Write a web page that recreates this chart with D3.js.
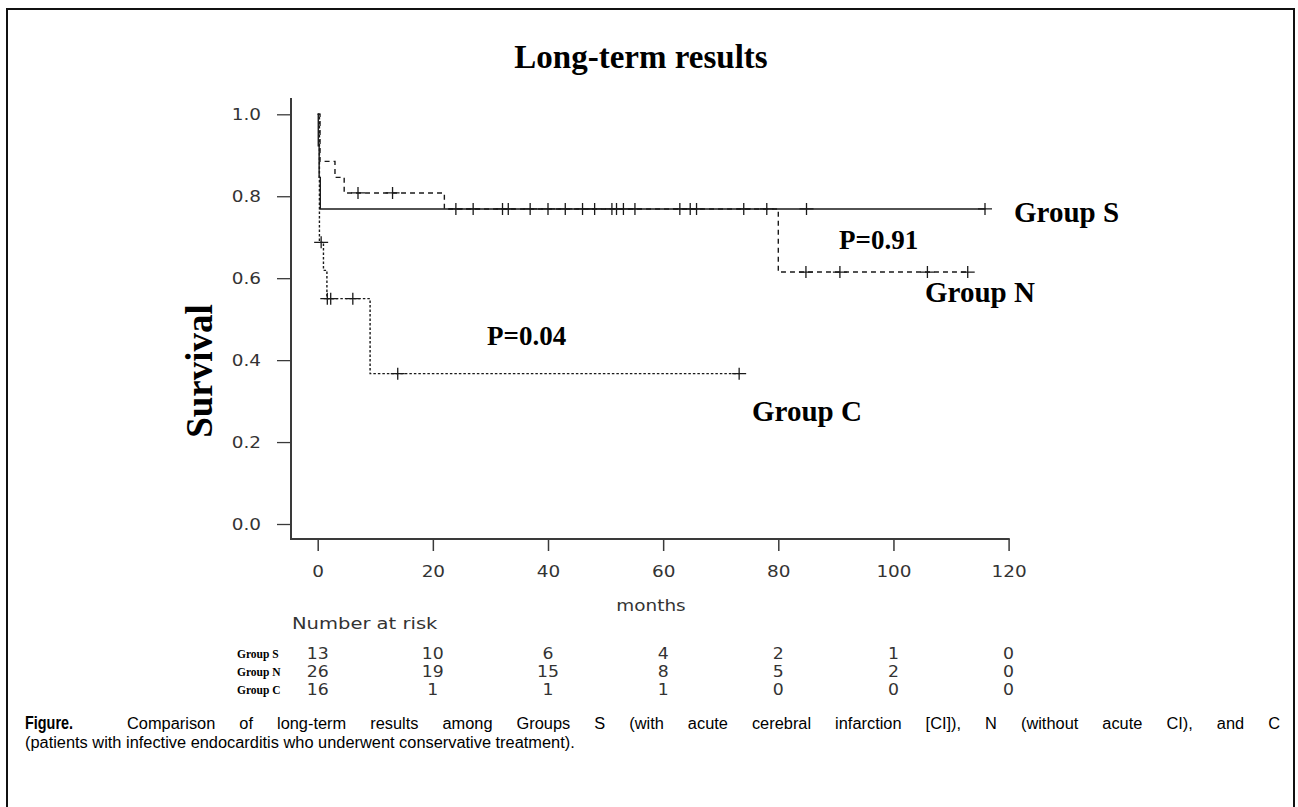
<!DOCTYPE html>
<html>
<head>
<meta charset="utf-8">
<script src="https://cdn.jsdelivr.net/npm/d3@7"></script>
<style>
  body { margin:0; background:#fff; }
  svg { display:block; }
</style>
</head>
<body>
<div id="chart"></div>
<script>
// temps (mois) des sauts et survie de chaque groupe
var sTime = [0, 0.1, 0.25, 0.45];
var sSurv = [1.0, 0.923, 0.846, 0.769];
var sEnd = 116;
var sCens = [27.0, 36.9, 43.0, 51.9, 64.7, 74.0, 84.9, 115.9];

var nTime = [0, 0.4, 3.0, 4.6, 22, 80];
var nSurv = [1.0, 0.885, 0.846, 0.808, 0.769, 0.615];
var nEnd = 113;
var nCens = [7.0, 13.0, 24.0, 32.1, 33.1, 40.0, 46.0, 48.1, 51.1, 53.1, 55.1, 62.9, 65.8, 78.0, 84.8, 90.7, 105.9, 112.9];

var cTime = [0, 0.3, 1.0, 1.6, 9.1];
var cSurv = [1.0, 0.6875, 0.619, 0.55, 0.367];
var cEnd = 73.2;
var cCens = [0.6, 1.67, 2.26, 6.1, 13.9, 73.2];

var xTicks = [0, 20, 40, 60, 80, 100, 120];
var yTicks = [0.0, 0.2, 0.4, 0.6, 0.8, 1.0];

// nombre de sujets a risque
var riskGroups = ["Group S", "Group N", "Group C"];
var riskS = [13, 10, 6, 4, 2, 1, 0];
var riskN = [26, 19, 15, 8, 5, 2, 0];
var riskC = [16, 1, 1, 1, 0, 0, 0];

var width = 1298, height = 807;
var axisCol = "#3a3a3a", lineCol = "#1a1a1a", txtCol = "#333";
var sansF = "'DejaVu Sans', sans-serif";
var serifF = "'Liberation Serif', 'Times New Roman', serif";
var capF = "'Liberation Sans', Arial, sans-serif";
var stretchK = 1.15; // le texte de la figure d'origine est elargi

var svg = d3.select("#chart").append("svg")
    .attr("width", width).attr("height", height);

// elargit un texte horizontalement
function stretch(sel, k){
  sel.each(function(){
    var l = this.getComputedTextLength();
    d3.select(this).attr("textLength", l * k).attr("lengthAdjust", "spacingAndGlyphs");
  });
}

// cadre de la figure
svg.append("path")
    .attr("d", "M7,812 V9 H1294 V812")
    .attr("fill", "none").attr("stroke", "#111").attr("stroke-width", 2);

var x = d3.scaleLinear().domain([0, 120]).range([317.7, 1008.6]);
var y = d3.scaleLinear().domain([0, 1]).range([524, 114.3]);

// titre
svg.append("text").attr("x", 641).attr("y", 68).attr("text-anchor", "middle")
    .style("font-family", serifF).style("font-weight", "bold").style("font-size", "33px")
    .text("Long-term results");

// axe y
var yAxis = svg.append("g").attr("transform", "translate(291,0)")
    .call(d3.axisLeft(y).tickValues(yTicks).tickFormat(d3.format(".1f")).tickSize(14).tickPadding(16));
yAxis.select(".domain").remove();
yAxis.selectAll("line").attr("stroke", axisCol).attr("stroke-width", 1.3);
yAxis.selectAll("text").attr("fill", txtCol).style("font-family", sansF).style("font-size", "16px")
    .call(stretch, stretchK);

// axe x
var xAxis = svg.append("g").attr("transform", "translate(0,539)")
    .call(d3.axisBottom(x).tickValues(xTicks).tickSize(12).tickPadding(15));
xAxis.select(".domain").remove();
xAxis.selectAll("line").attr("stroke", axisCol).attr("stroke-width", 1.5);
xAxis.selectAll("text").attr("fill", txtCol).style("font-family", sansF).style("font-size", "16px")
    .call(stretch, stretchK);

// lignes des axes en L
svg.append("path")
    .attr("d", "M291," + (y(1.04)) + " V539 H" + x(120.2))
    .attr("fill", "none").attr("stroke", axisCol).attr("stroke-width", 2);

// courbe en escalier d'un groupe
var line = d3.line().x(function(d){ return x(d[0]); }).y(function(d){ return y(d[1]); })
    .curve(d3.curveStepAfter);

function survAt(times, surv, t){
  var v = surv[0];
  for (var i = 0; i < times.length; i++){ if (times[i] <= t) v = surv[i]; }
  return v;
}

function drawCurve(times, surv, end, cens, dash){
  var pts = times.map(function(t, i){ return [t, surv[i]]; });
  pts.push([end, surv[surv.length - 1]]);
  svg.append("path").attr("d", line(pts))
      .attr("fill", "none").attr("stroke", lineCol).attr("stroke-width", 1.4)
      .attr("stroke-dasharray", dash);
  // marques de censure
  svg.append("g").selectAll("path").data(cens).enter().append("path")
      .attr("d", function(t){
        var cx = x(t), cy = y(survAt(times, surv, t));
        return "M" + (cx - 7) + "," + cy + "H" + (cx + 7) + "M" + cx + "," + (cy - 6) + "V" + (cy + 6);
      })
      .attr("fill", "none").attr("stroke", lineCol).attr("stroke-width", 1.3);
}

drawCurve(nTime, nSurv, nEnd, nCens, "5,4");
drawCurve(cTime, cSurv, cEnd, cCens, "2.5,2");
drawCurve(sTime, sSurv, sEnd, sCens, null);

// etiquettes dans le graphique
var labels = [
  {t: "Group S", x: 1014, y: 222, fs: 29},
  {t: "P=0.91", x: 839, y: 249, fs: 27},
  {t: "Group N", x: 925, y: 302, fs: 29},
  {t: "P=0.04", x: 487, y: 345, fs: 27},
  {t: "Group C", x: 752, y: 421, fs: 29}
];
svg.append("g").selectAll("text").data(labels).enter().append("text")
    .attr("x", function(d){ return d.x; }).attr("y", function(d){ return d.y; })
    .style("font-family", serifF).style("font-weight", "bold")
    .style("font-size", function(d){ return d.fs + "px"; })
    .text(function(d){ return d.t; });

svg.append("text").attr("transform", "translate(212,371) rotate(-90)").attr("text-anchor", "middle")
    .style("font-family", serifF).style("font-weight", "bold").style("font-size", "37px")
    .text("Survival");

svg.append("text").attr("x", 651).attr("y", 611).attr("text-anchor", "middle")
    .attr("fill", txtCol).style("font-family", sansF).style("font-size", "16px")
    .text("months").call(stretch, stretchK);

svg.append("text").attr("x", 292).attr("y", 629)
    .attr("fill", txtCol).style("font-family", sansF).style("font-size", "16px")
    .text("Number at risk").call(stretch, 1.22);

// tableau des sujets a risque
var riskRows = [riskS, riskN, riskC];
var rowY = [659, 677, 695];
riskRows.forEach(function(row, r){
  svg.append("text").attr("x", 237).attr("y", rowY[r] - 1)
      .style("font-family", serifF).style("font-weight", "bold").style("font-size", "11.5px")
      .text(riskGroups[r]);
  svg.append("g").selectAll("text").data(row).enter().append("text")
      .attr("x", function(d, i){ return x(xTicks[i]); }).attr("y", rowY[r])
      .attr("text-anchor", "middle").attr("fill", txtCol)
      .style("font-family", sansF).style("font-size", "15px")
      .text(function(d){ return d; })
      .call(stretch, stretchK);
});

// legende de la figure
svg.append("text").attr("x", 25).attr("y", 729)
    .attr("textLength", 48).attr("lengthAdjust", "spacingAndGlyphs")
    .style("font-family", capF).style("font-weight", "bold").style("font-size", "18px")
    .text("Figure.");
var cap2 = svg.append("text").attr("x", 25).attr("y", 748)
    .style("font-family", capF).style("font-size", "16px")
    .text("(patients with infective endocarditis who underwent conservative treatment).");
// taille de police calee sur la largeur de la seconde ligne
var capSize = 16 * 550 / cap2.node().getComputedTextLength();
cap2.style("font-size", capSize + "px");
var cap1 = svg.append("text").attr("x", 127).attr("y", 729)
    .style("font-family", capF).style("font-size", capSize + "px")
    .text("Comparison of long-term results among Groups S (with acute cerebral infarction [CI]), N (without acute CI), and C");
// justifie la premiere ligne
var natural = cap1.node().getComputedTextLength();
var nSpaces = cap1.text().split(" ").length - 1;
cap1.style("word-spacing", Math.max(0, (1280 - 127 - natural) / nSpaces) + "px");
</script>
</body>
</html>
